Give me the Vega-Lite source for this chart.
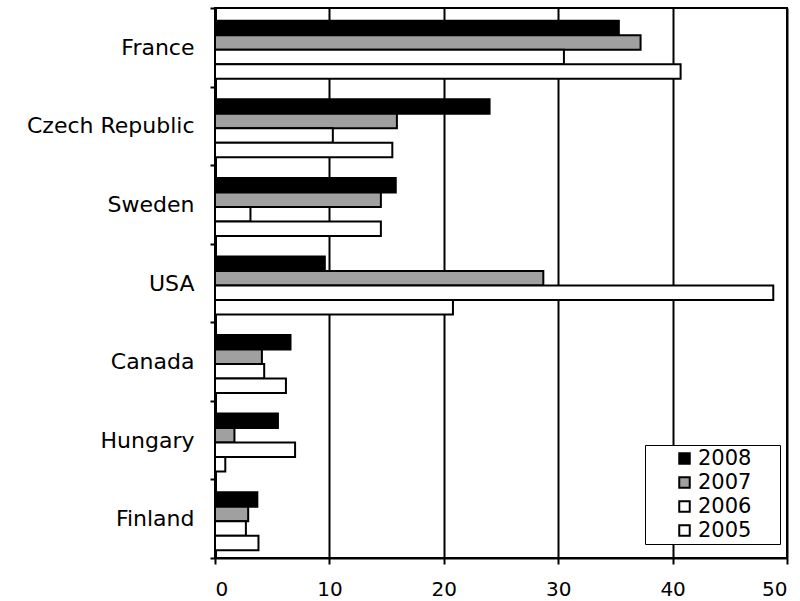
{
  "$schema": "https://vega.github.io/schema/vega-lite/v6.json",
  "width": 572,
  "height": 550,
  "autosize": "none",
  "padding": {"left": 215, "top": 8, "right": 13, "bottom": 43},
  "background": "white",
  "config": {
    "view": {"stroke": "black", "strokeWidth": 2},
    "font": "DejaVu Sans",
    "legend": {"strokeColor": "black", "fillColor": "white"}
  },
  "data": {
    "values": [
      {"country": "France", "year": "2008", "value": 35.3},
      {"country": "France", "year": "2007", "value": 37.2},
      {"country": "France", "year": "2006", "value": 30.5},
      {"country": "France", "year": "2005", "value": 40.7},
      {"country": "Czech Republic", "year": "2008", "value": 24.0},
      {"country": "Czech Republic", "year": "2007", "value": 15.9},
      {"country": "Czech Republic", "year": "2006", "value": 10.3},
      {"country": "Czech Republic", "year": "2005", "value": 15.5},
      {"country": "Sweden", "year": "2008", "value": 15.8},
      {"country": "Sweden", "year": "2007", "value": 14.5},
      {"country": "Sweden", "year": "2006", "value": 3.1},
      {"country": "Sweden", "year": "2005", "value": 14.5},
      {"country": "USA", "year": "2008", "value": 9.6},
      {"country": "USA", "year": "2007", "value": 28.7},
      {"country": "USA", "year": "2006", "value": 48.8},
      {"country": "USA", "year": "2005", "value": 20.8},
      {"country": "Canada", "year": "2008", "value": 6.6},
      {"country": "Canada", "year": "2007", "value": 4.1},
      {"country": "Canada", "year": "2006", "value": 4.3},
      {"country": "Canada", "year": "2005", "value": 6.2},
      {"country": "Hungary", "year": "2008", "value": 5.5},
      {"country": "Hungary", "year": "2007", "value": 1.7},
      {"country": "Hungary", "year": "2006", "value": 7.0},
      {"country": "Hungary", "year": "2005", "value": 0.9},
      {"country": "Finland", "year": "2008", "value": 3.7},
      {"country": "Finland", "year": "2007", "value": 2.9},
      {"country": "Finland", "year": "2006", "value": 2.7},
      {"country": "Finland", "year": "2005", "value": 3.8}
    ]
  },
  "mark": {"type": "bar", "stroke": "black", "strokeWidth": 2, "opacity": 1},
  "encoding": {
    "y": {
      "field": "country",
      "type": "nominal",
      "scale": {"domain": ["France", "Czech Republic", "Sweden", "USA", "Canada", "Hungary", "Finland"], "paddingInner": 0, "paddingOuter": 0},
      "axis": {
        "title": null,
        "tickBand": "extent",
        "domainColor": "black",
        "domainWidth": 3,
        "tickColor": "black",
        "tickWidth": 2,
        "tickSize": 5,
        "labelFontSize": 22,
        "labelColor": "black",
        "labelPadding": 16,
        "labelFont": "DejaVu Sans"
      }
    },
    "yOffset": {
      "field": "year",
      "type": "nominal",
      "scale": {"domain": ["2008", "2007", "2006", "2005"], "paddingInner": 0, "paddingOuter": 0.71, "align": 0.62}
    },
    "x": {
      "field": "value",
      "type": "quantitative",
      "scale": {"domain": [0, 50], "nice": false},
      "axis": {
        "title": null,
        "values": [0, 10, 20, 30, 40, 50],
        "grid": true,
        "gridColor": "black",
        "gridWidth": 2,
        "gridOpacity": 1,
        "domainColor": "black",
        "domainWidth": 2,
        "tickColor": "black",
        "tickWidth": 2,
        "tickSize": 6,
        "labelFontSize": 20,
        "labelColor": "black",
        "labelPadding": 15,
        "labelFont": "DejaVu Sans"
      }
    },
    "fill": {
      "field": "year",
      "type": "nominal",
      "scale": {"domain": ["2008", "2007", "2006", "2005"], "range": ["#000000", "#a0a0a0", "#ffffff", "#ffffff"]},
      "legend": {
        "title": " ",
        "titleOrient": "right",
        "titlePadding": 26,
        "titleFontSize": 10,
        "orient": "none",
        "legendX": 430,
        "legendY": 437,
        "direction": "vertical",
        "symbolType": "square",
        "symbolSize": 110,
        "symbolStrokeColor": "black",
        "symbolStrokeWidth": 2,
        "symbolOpacity": 1,
        "symbolOffset": 26,
        "labelFontSize": 21,
        "labelColor": "black",
        "labelFont": "DejaVu Sans",
        "labelOffset": 3,
        "rowPadding": 2,
        "padding": 3
      }
    }
  }
}
